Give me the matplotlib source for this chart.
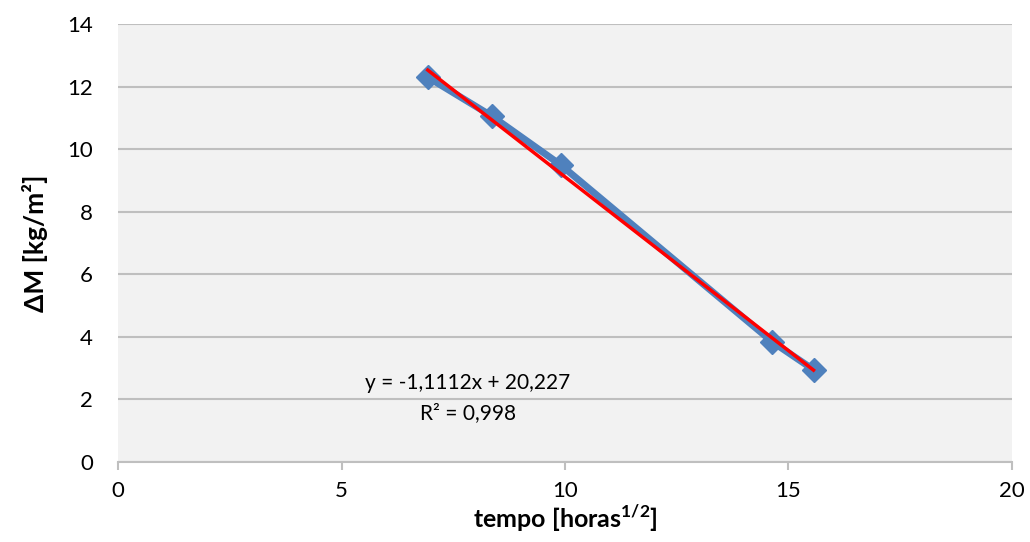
import numpy as np
import matplotlib.pyplot as plt

plt.rcParams['font.family'] = ['Lato', 'DejaVu Sans']
plt.rcParams['mathtext.fontset'] = 'custom'
plt.rcParams['mathtext.rm'] = 'Lato'
plt.rcParams['mathtext.bf'] = 'Lato:weight=bold'

# tempo [horas^1/2] e perda de massa
tempo = [6.93, 8.37, 9.90, 14.63, 15.56]
delta_m = [12.3, 11.05, 9.5, 3.85, 2.95]

# linha de tendencia (ajuste linear)
inclinacao = -1.1112
intercepto = 20.227
r2 = 0.998

fig = plt.figure(figsize=(10.30, 5.42), dpi=100)
ax = fig.add_axes([0.1146, 0.1476, 0.8679, 0.8081])
ax.set_facecolor('#F2F2F2')

ax.plot(tempo, delta_m, color='#4F81BD', lw=5, marker='D', ms=12,
        solid_joinstyle='round', zorder=3)

xt = np.array([tempo[0], tempo[-1]])
ax.plot(xt, inclinacao*xt + intercepto, color='red', lw=2.5, zorder=4)

fig.text(468/1030, 1 - 383/542, 'y = -1,1112x + 20,227', ha='center',
         va='center', fontsize=15, color='black')
fig.text(468/1030, 1 - 413/542, 'R² = 0,998', ha='center', va='center',
         fontsize=15, color='black')

ax.set_xlim(0, 20)
ax.set_ylim(0, 14)
ax.set_xticks([0, 5, 10, 15, 20])
ax.set_yticks(range(0, 15, 2))
ax.grid(axis='y', color='#BFBFBF', lw=1.5)
ax.set_axisbelow(True)
for s in ['left', 'right', 'top']:
    ax.spines[s].set_visible(False)
ax.spines['bottom'].set_color('#BFBFBF')
ax.spines['bottom'].set_linewidth(1.5)
ax.tick_params(axis='x', length=6, width=1.5, color='#BFBFBF', labelsize=16, pad=8)
ax.tick_params(axis='y', length=0, labelsize=16, pad=18)

ax.set_xlabel(r'tempo [horas$^{\mathbf{1/2}}$]', fontsize=18, fontweight='bold', labelpad=1)
ax.set_ylabel('ΔM [kg/m²]', fontsize=19, fontweight='bold', labelpad=14)

fig.savefig('out.png', dpi=100)
